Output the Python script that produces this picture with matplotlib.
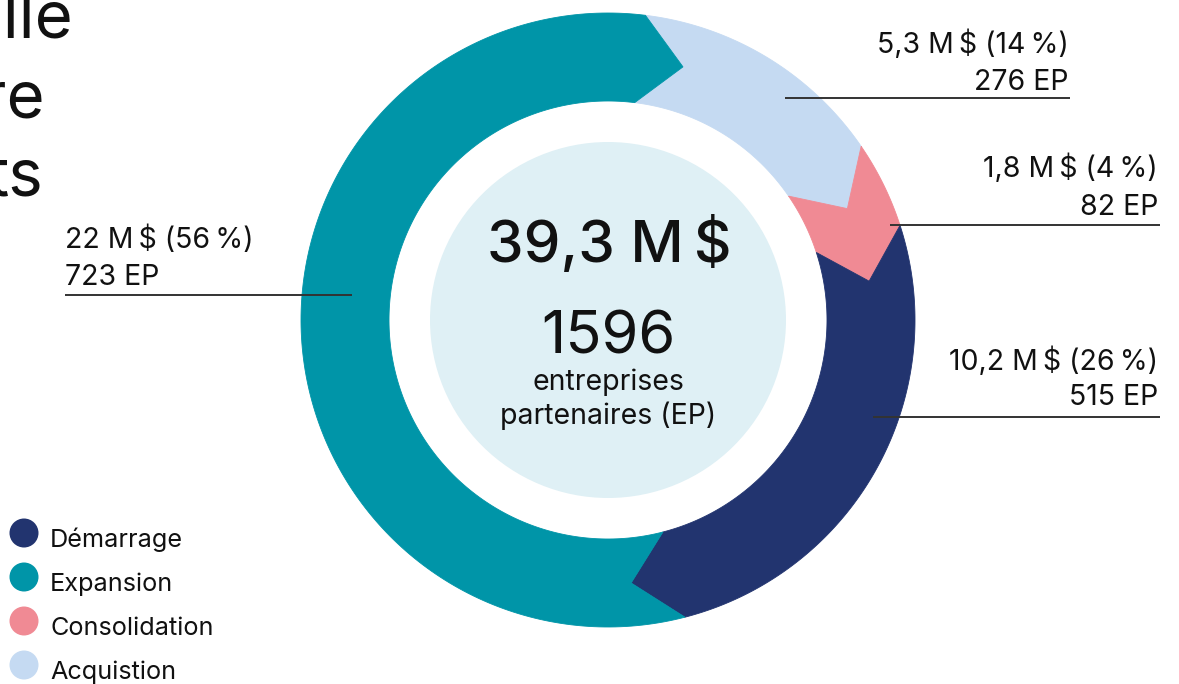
import numpy as np
import matplotlib
matplotlib.use("Agg")
import matplotlib.pyplot as plt
from matplotlib.patches import Polygon, Circle

plt.rcParams['font.family'] = ['Inter', 'DejaVu Sans']

# ---- data ----
categories = ["Acquistion", "Consolidation", "Démarrage", "Expansion"]   # clockwise order in ring
amounts_musd = [5.3, 1.8, 10.2, 22.0]
percents = [14, 4, 26, 56]
ep_counts = [276, 82, 515, 723]
colors = ["#C5DAF2", "#F08A94", "#22346F", "#0095A8"]
legend_order = ["Démarrage", "Expansion", "Consolidation", "Acquistion"]
total_musd = "39,3"
total_ep = 1596
title_fragments = ["ille", "re", "ts"]

TS = "\u2009"

W, H = 1179, 684
fig = plt.figure(figsize=(W / 100, H / 100), dpi=100)
ax = fig.add_axes([0, 0, 1, 1])
ax.set_xlim(0, W)
ax.set_ylim(H, 0)
ax.axis("off")

cx, cy = 608, 320
r_out, r_in, r_mid = 307, 219, 264
r_center = 178
delta = 9.5          # chevron offset in degrees
start = 83.0         # angle of first boundary (deg, CCW from +x)

def pt(r, ang):
    a = np.deg2rad(ang)
    return (cx + r * np.cos(a), cy - r * np.sin(a))

vals = np.array(amounts_musd, dtype=float)
spans = vals / vals.sum() * 360.0
a0 = start
for span, col in zip(spans, colors):
    a1 = a0 - span
    outer = [pt(r_out, a) for a in np.linspace(a0, a1, 200)]
    chev_end = [pt(r_mid, a1 - delta)]
    inner = [pt(r_in, a) for a in np.linspace(a1, a0, 200)]
    chev_start = [pt(r_mid, a0 - delta)]
    poly = Polygon(outer + chev_end + inner + chev_start, closed=True,
                   facecolor=col, edgecolor=col, linewidth=0.6)
    ax.add_patch(poly)
    a0 = a1

ax.add_patch(Circle((cx, cy), r_center, facecolor="#DFF0F5", edgecolor="none"))

# center texts
ax.text(cx + 1, 262, f"{total_musd} M{TS}$", ha="center", va="baseline",
        fontsize=42, fontweight="medium", color="#111111")
ax.text(cx, 353, f"{total_ep}", ha="center", va="baseline",
        fontsize=43, fontweight="normal", color="#111111")
ax.text(cx, 390, "entreprises", ha="center", va="baseline", fontsize=20.5, color="#111111")
ax.text(cx, 424, "partenaires (EP)", ha="center", va="baseline", fontsize=20.5, color="#111111")

def fmt_amt(v):
    return f"{v:g}".replace(".", ",")

# labels: (x_text, ha, baseline1, baseline2, line_y, line_x0, line_x1)
label_layout = {
    "Acquistion": (1069, "right", 53, 90, 98, 785, 1070),
    "Consolidation": (1158, "right", 177, 215, 225, 890, 1160),
    "Démarrage": (1158, "right", 370, 405, 417, 873, 1160),
    "Expansion": (65, "left", 248, 285, 295, 65, 352),
}
for cat, amt, pc, ep in zip(categories, amounts_musd, percents, ep_counts):
    xt, ha, b1, b2, ly, lx0, lx1 = label_layout[cat]
    ax.text(xt, b1, f"{fmt_amt(amt)} M{TS}$ ({pc}{TS}%)", ha=ha, va="baseline",
            fontsize=20.5, color="#111111")
    ax.text(xt, b2, f"{ep} EP", ha=ha, va="baseline", fontsize=20.5, color="#111111")
    ax.plot([lx0, lx1], [ly, ly], color="#333333", lw=1.4, solid_capstyle="butt")

# legend
leg_base = [547, 591, 635, 679]
for cat, yb in zip(legend_order, leg_base):
    col = colors[categories.index(cat)]
    ax.add_patch(Circle((24, yb - 14), 14.5, facecolor=col, edgecolor="none"))
    ax.text(50, yb, cat, ha="left", va="baseline", fontsize=18.2, color="#111111")

# partial title (cut off at left edge, as in the source layout)
for frag, xr, yb in zip(title_fragments, [73, 45, 43], [38, 118, 196]):
    ax.text(xr, yb, frag, ha="right", va="baseline", fontsize=47, color="#111111")

fig.savefig("out.png", dpi=100)
